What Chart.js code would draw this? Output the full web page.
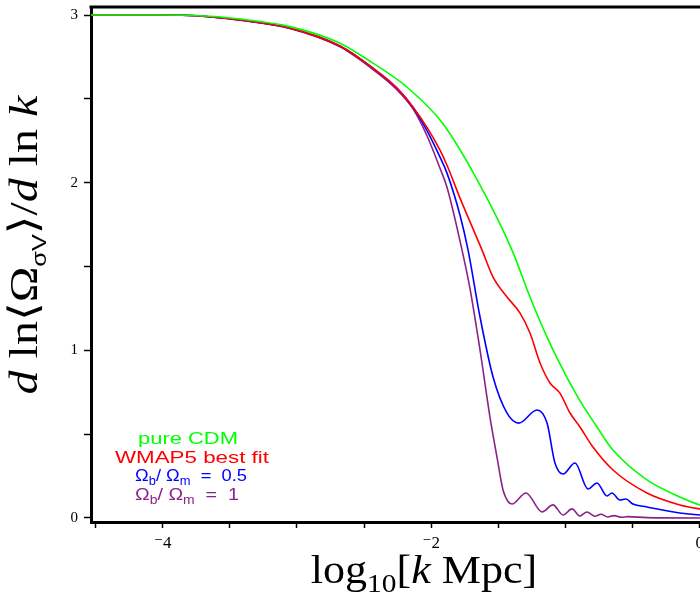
<!DOCTYPE html>
<html>
<head>
<meta charset="utf-8">
<script src="https://cdn.jsdelivr.net/npm/chart.js@4.4.1/dist/chart.umd.min.js"></script>
<style>
  html, body { margin: 0; padding: 0; overflow: hidden; background: #fff; }
  #wrap { position: relative; width: 800px; height: 605px; }
</style>
</head>
<body>
<div id="wrap"><canvas id="myChart"></canvas></div>
<script>
// log10[k Mpc] and d ln<Omega>/d ln k
var cdmX = [-4.534, -4.0, -3.75, -3.424, -3.052, -2.680, -2.434, -2.181, -1.913, -1.637, -1.399, -1.265, -1.138, -1.019, -0.893, -0.766, -0.647, -0.394, -0.149, 0.0, 0.3, 0.5];
var cdmY = [3.0, 3.0, 2.997, 2.976, 2.931, 2.832, 2.713, 2.570, 2.352, 1.986, 1.598, 1.318, 1.079, 0.883, 0.70, 0.543, 0.405, 0.227, 0.125, 0.078, 0.035, 0.02];

var wmapX = [-4.534, -4.0, -3.75, -3.424, -3.052, -2.680, -2.434, -2.256, -2.136, -2.032, -1.935, -1.883, -1.786, -1.622, -1.540, -1.436, -1.339, -1.265, -1.190, -1.116, -1.042, -0.967, -0.893, -0.796, -0.647, -0.394, -0.149, 0.0, 0.3, 0.5];
var wmapY = [3.0, 3.0, 2.996, 2.970, 2.922, 2.815, 2.683, 2.564, 2.45, 2.33, 2.194, 2.104, 1.908, 1.598, 1.437, 1.318, 1.222, 1.103, 0.924, 0.805, 0.745, 0.626, 0.543, 0.423, 0.286, 0.149, 0.078, 0.054, 0.022, 0.012];

var halfX = [-4.534, -4.0, -3.75, -3.424, -3.052, -2.680, -2.434, -2.256, -2.136, -2.032, -1.935, -1.883, -1.786, -1.726, -1.637, -1.540, -1.436, -1.347, -1.213, -1.138, -1.079, -1.019, -0.930, -0.833, -0.766, -0.692, -0.655, -0.595, -0.551, -0.499, -0.394, -0.149, 0.0, 0.3, 0.5];
var halfY = [3.0, 3.0, 2.996, 2.970, 2.922, 2.815, 2.683, 2.564, 2.45, 2.31, 2.152, 2.057, 1.806, 1.598, 1.199, 0.841, 0.626, 0.566, 0.644, 0.566, 0.328, 0.262, 0.328, 0.173, 0.209, 0.131, 0.149, 0.107, 0.113, 0.083, 0.066, 0.030, 0.018, 0.008, 0.005];

var oneX = [-4.534, -4.0, -3.75, -3.424, -3.052, -2.680, -2.434, -2.256, -2.136, -2.032, -1.935, -1.883, -1.771, -1.712, -1.637, -1.563, -1.511, -1.466, -1.430, -1.399, -1.295, -1.175, -1.094, -1.019, -0.952, -0.893, -0.841, -0.781, -0.737, -0.685, -0.640, -0.581, -0.536, -0.394, 0.0, 0.5];
var oneY = [3.0, 3.0, 2.996, 2.969, 2.920, 2.810, 2.675, 2.555, 2.44, 2.28, 2.086, 1.973, 1.598, 1.37, 1.002, 0.602, 0.364, 0.167, 0.10, 0.083, 0.149, 0.036, 0.078, 0.018, 0.054, 0.012, 0.036, 0.010, 0.022, 0.006, 0.014, 0.004, 0.008, 0.002, 0.0, 0.0];

var seriesNames = ['pure CDM', 'WMAP5 best fit', 'Ωb/ Ωm = 0.5', 'Ωb/ Ωm = 1'];
var seriesColors = ['#00ff00', '#ff0000', '#0000ff', '#8b2288'];

var yTickVals = [0, 1, 2, 3];
var xTickVals = [-4, -2, 0];
var xTickText = ['\u207B4', '\u207B2', '0'];

function pts(xs, ys) {
    return xs.map(function (x, i) { return { x: x, y: ys[i] }; });
}

var serif = "'Liberation Serif', 'DejaVu Serif', serif";
var sans = "'Liberation Sans', Arial, sans-serif";

function runsWidth(ctx, runs) {
    var w = 0;
    runs.forEach(function (r) { ctx.font = r.font; w += ctx.measureText(r.t).width; });
    return w;
}

// draws a row of text pieces, centred on cx
function drawRuns(ctx, runs, cx, y) {
    var x = cx - runsWidth(ctx, runs) / 2;
    runs.forEach(function (r) {
        ctx.font = r.font;
        ctx.fillText(r.t, x, y + (r.dy || 0));
        x += ctx.measureText(r.t).width;
    });
}

// same, stretched sideways to a given width (the original uses a wide face)
function drawRunsWide(ctx, runs, cx, y, width) {
    var sx = width / runsWidth(ctx, runs);
    ctx.save();
    ctx.translate(cx, y);
    ctx.scale(sx, 1);
    drawRuns(ctx, runs, 0, 0);
    ctx.restore();
}

function ratioRuns(val, size) {
    var big = size + 'px ' + sans, small = Math.round(size * 0.72) + 'px ' + sans;
    return [
        { t: 'Ω', font: big }, { t: 'b', font: small, dy: 4 },
        { t: '/ ', font: big },
        { t: 'Ω', font: big }, { t: 'm', font: small, dy: 4 },
        { t: '  =  ' + val, font: big }
    ];
}

const extraText = {
    id: 'extraText',
    afterDraw(chart) {
        var ctx = chart.ctx, a = chart.chartArea;
        ctx.save();
        // top frame line
        ctx.strokeStyle = '#000';
        ctx.lineWidth = 3;
        ctx.beginPath();
        ctx.moveTo(a.left - 1.5, a.top);
        ctx.lineTo(a.right, a.top);
        ctx.stroke();

        ctx.textBaseline = 'alphabetic';
        ctx.fillStyle = '#000';

        // x title
        ctx.save();
        ctx.translate(424, 583);
        ctx.scale(1.13, 1);
        drawRuns(ctx, [
            { t: 'log', font: '39px ' + serif },
            { t: '10', font: '26px ' + serif, dy: 9 },
            { t: '[', font: '39px ' + serif },
            { t: 'k', font: 'italic 39px ' + serif },
            { t: ' Mpc]', font: '39px ' + serif }
        ], 0, 0);
        ctx.restore();

        // y title
        ctx.save();
        ctx.translate(37, 245);
        ctx.rotate(-Math.PI / 2);
        ctx.scale(1.2, 1);
        drawRuns(ctx, [
            { t: 'd', font: 'italic 40px ' + serif },
            { t: ' ln\u27E8', font: '40px ' + serif },
            { t: 'Ω', font: '40px ' + serif },
            { t: 'σV', font: '21px ' + sans, dy: 9 },
            { t: '\u27E9/', font: '40px ' + serif },
            { t: 'd', font: 'italic 40px ' + serif },
            { t: ' ln ', font: '40px ' + serif },
            { t: 'k', font: 'italic 40px ' + serif }
        ], 0, 0);
        ctx.restore();

        // legend
        var legendRuns = [
            [{ t: seriesNames[0], font: '17px ' + sans }],
            [{ t: seriesNames[1], font: '17px ' + sans }],
            ratioRuns('0.5', 17),
            ratioRuns('1', 17)
        ];
        var centres = [188, 192, 191, 187];
        var widths = [100, 154, 112, 104];
        var baselines = [444, 463, 481, 500];
        legendRuns.forEach(function (r, i) {
            ctx.fillStyle = seriesColors[i];
            drawRunsWide(ctx, r, centres[i], baselines[i], widths[i]);
        });
        ctx.restore();
    }
};

var allX = [cdmX, wmapX, halfX, oneX];
var allY = [cdmY, wmapY, halfY, oneY];

const ctx = document.getElementById('myChart').getContext('2d');

const myChart = new Chart(ctx, {
    type: 'line',
    data: {
        datasets: seriesNames.map(function (name, i) {
            return {
                label: name,
                data: pts(allX[i], allY[i]),
                borderColor: seriesColors[i],
                borderWidth: 1.6,
                pointRadius: 0,
                fill: false,
                cubicInterpolationMode: 'monotone'
            };
        })
    },
    options: {
        responsive: true,
        maintainAspectRatio: false,
        animation: false,
        events: [],
        layout: { padding: { top: 7, right: 33, left: 0, bottom: 0 } },
        plugins: {
            legend: { display: false },
            tooltip: { enabled: false }
        },
        scales: {
            x: {
                type: 'linear',
                min: -4.534,
                max: 0.5,
                border: { color: '#000', width: 3 },
                grid: { drawOnChartArea: false, drawTicks: true, tickLength: 6, tickWidth: 1.5, tickColor: '#000' },
                ticks: {
                    stepSize: 0.5,
                    includeBounds: false,
                    autoSkip: false,
                    maxRotation: 0,
                    color: '#000',
                    padding: 5,
                    font: { family: serif, size: 17 },
                    callback: function (v) {
                        for (var i = 0; i < xTickVals.length; i++) {
                            if (Math.abs(v - xTickVals[i]) < 1e-6) return xTickText[i];
                        }
                        return '';
                    }
                },
                afterFit: function (s) { s.height = 83; s.paddingLeft = 0; s.paddingRight = 0; }
            },
            y: {
                min: -0.024,
                max: 3.048,
                border: { color: '#000', width: 3 },
                grid: { drawOnChartArea: false, drawTicks: true, tickLength: 7, tickWidth: 1.5, tickColor: '#000' },
                ticks: {
                    stepSize: 0.5,
                    includeBounds: false,
                    autoSkip: false,
                    color: '#000',
                    padding: 6,
                    font: { family: serif, size: 15 },
                    callback: function (v) {
                        for (var i = 0; i < yTickVals.length; i++) {
                            if (Math.abs(v - yTickVals[i]) < 1e-6) return String(yTickVals[i]);
                        }
                        return '';
                    }
                },
                afterFit: function (s) { s.width = 91; s.paddingTop = 0; s.paddingBottom = 0; }
            }
        }
    },
    plugins: [extraText]
});
</script>
</body>
</html>
